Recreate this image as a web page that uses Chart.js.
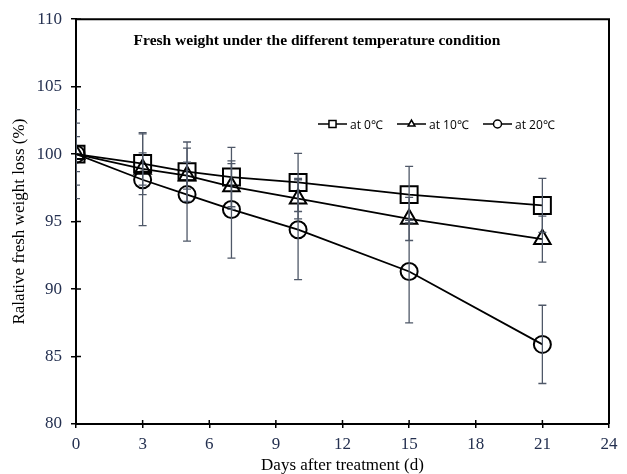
<!DOCTYPE html>
<html>
<head>
<meta charset="utf-8">
<script src="https://cdn.jsdelivr.net/npm/chart.js@4"></script>
<style>
  html, body { margin: 0; padding: 0; background: #fff; }
  #wrap { width: 627px; height: 474px; }
</style>
</head>
<body>
<div id="wrap"><canvas id="myChart" width="627" height="474"></canvas></div>
<script>
const days = [0, 3, 5, 7, 10, 15, 21];
const at0 = [100, 99.3, 98.7, 98.3, 97.9, 97.0, 96.2];
const at0Err = [2.3, 2.3, 2.2, 2.2, 2.15, 2.1, 2.0];
const at10 = [100, 98.9, 98.4, 97.6, 96.7, 95.2, 93.7];
const at10Err = [1.3, 1.2, 1.0, 1.7, 1.5, 1.6, 1.7];
const at20 = [100, 98.1, 97.0, 95.9, 94.4, 91.3, 85.9];
const at20Err = [3.3, 3.4, 3.45, 3.6, 3.7, 3.8, 2.9];
const seriesNames = ['at 0℃', 'at 10℃', 'at 20℃'];
const chartTitle = 'Fresh weight under the different temperature condition';

const tickColor = '#243050';
const errColor = '#4f5868';

function pts(vals) {
  return days.map((d, i) => ({ x: d, y: vals[i] }));
}

// error bars, clipped to the plot area like the original
const errorBars = {
  id: 'errorBars',
  afterDatasetsDraw(chart) {
    const ctx = chart.ctx;
    const area = chart.chartArea;
    const y = chart.scales.y;
    ctx.save();
    ctx.beginPath();
    ctx.rect(area.left, area.top, area.right - area.left, area.bottom - area.top);
    ctx.clip();
    ctx.strokeStyle = errColor;
    ctx.lineWidth = 1.3;
    chart.data.datasets.forEach((ds, di) => {
      const meta = chart.getDatasetMeta(di);
      ds.errors.forEach((e, i) => {
        const px = meta.data[i].x;
        const top = y.getPixelForValue(ds.data[i].y + e);
        const bot = y.getPixelForValue(ds.data[i].y - e);
        ctx.beginPath();
        ctx.moveTo(px, top); ctx.lineTo(px, bot);
        ctx.moveTo(px - 4, top); ctx.lineTo(px + 4, top);
        ctx.moveTo(px - 4, bot); ctx.lineTo(px + 4, bot);
        ctx.stroke();
      });
    });
    ctx.restore();
  }
};

// box, inner tick marks, title and legend inside the plot
const extras = {
  id: 'extras',
  afterDraw(chart) {
    const ctx = chart.ctx;
    const a = chart.chartArea;
    const xs = chart.scales.x, ys = chart.scales.y;
    ctx.save();
    ctx.strokeStyle = '#000';
    ctx.lineWidth = 2;
    ctx.beginPath();
    ctx.moveTo(a.left, a.top); ctx.lineTo(a.right, a.top); ctx.lineTo(a.right, a.bottom);
    ctx.stroke();

    ctx.lineWidth = 1.5;
    ctx.beginPath();
    xs.ticks.forEach(t => {
      const px = xs.getPixelForValue(t.value);
      ctx.moveTo(px, a.bottom); ctx.lineTo(px, a.bottom - 4);
    });
    ys.ticks.forEach(t => {
      const py = ys.getPixelForValue(t.value);
      ctx.moveTo(a.left, py); ctx.lineTo(a.left + 5, py);
    });
    ctx.stroke();

    ctx.fillStyle = '#000';
    ctx.font = 'bold 15.5px "Liberation Serif", "Times New Roman", serif';
    ctx.textAlign = 'center';
    ctx.textBaseline = 'middle';
    ctx.fillText(chartTitle, 317, 41);

    // legend
    const lx = [318, 397, 483];
    const ly = 124;
    ctx.font = '12px "Open Sans", "Liberation Sans", sans-serif';
    ctx.textAlign = 'left';
    chart.data.datasets.forEach((ds, i) => {
      const x0 = lx[i];
      ctx.strokeStyle = '#000';
      ctx.lineWidth = 1.5;
      ctx.beginPath();
      ctx.moveTo(x0, ly); ctx.lineTo(x0 + 29, ly);
      ctx.stroke();
      ctx.fillStyle = '#fff';
      ctx.strokeStyle = '#000';
      Chart.helpers.drawPoint(ctx, {
        pointStyle: ds.pointStyle, rotation: 0, borderWidth: 1.5,
        radius: ds.pointStyle === 'rect' ? 5 : 4
      }, x0 + 14.5, ly);
      ctx.fillStyle = '#000';
      ctx.fillText(ds.label, x0 + 32, ly + 2);
    });
    ctx.restore();
  }
};

function makeSet(label, vals, errs, style, r) {
  return {
    label: label,
    data: pts(vals),
    errors: errs,
    borderColor: '#000',
    borderWidth: 1.8,
    pointStyle: style,
    pointRadius: r,
    pointHoverRadius: r,
    pointBorderWidth: 2,
    pointBorderColor: '#000',
    pointBackgroundColor: 'rgba(255,255,255,0)',
    fill: false,
    tension: 0,
  };
}

const ctx = document.getElementById('myChart').getContext('2d');
const myChart = new Chart(ctx, {
  type: 'line',
  data: {
    datasets: [
      makeSet(seriesNames[0], at0, at0Err, 'rect', 12),
      makeSet(seriesNames[1], at10, at10Err, 'triangle', 9.5),
      makeSet(seriesNames[2], at20, at20Err, 'circle', 8.5),
    ],
  },
  options: {
    responsive: false,
    animation: false,
    layout: { padding: { top: 19, right: 18, left: 0, bottom: 0 } },
    plugins: {
      legend: { display: false },
      tooltip: { enabled: false },
    },
    scales: {
      x: {
        type: 'linear',
        min: 0,
        max: 24,
        afterFit: s => { s.height = 50; },
        ticks: {
          stepSize: 3,
          color: tickColor,
          padding: 6,
          font: { family: '"Liberation Serif", serif', size: 17 },
        },
        grid: { drawOnChartArea: false, tickLength: 4, color: '#000', lineWidth: 1.5 },
        border: { color: '#000', width: 2 },
        title: {
          display: true,
          text: 'Days after treatment (d)',
          color: '#000',
          padding: { top: -6, bottom: 0 },
          font: { family: '"Liberation Serif", serif', size: 17, lineHeight: 1 },
        },
      },
      y: {
        min: 80,
        max: 110,
        afterFit: s => { s.width = 76; },
        ticks: {
          stepSize: 5,
          color: tickColor,
          padding: 9,
          font: { family: '"Liberation Serif", serif', size: 17 },
        },
        grid: { drawOnChartArea: false, tickLength: 5, color: '#000', lineWidth: 1.5 },
        border: { color: '#000', width: 2 },
        title: {
          display: true,
          text: 'Ralative fresh weight loss (%)',
          color: '#000',
          padding: { top: 11, bottom: 0 },
          font: { family: '"Liberation Serif", serif', size: 17, lineHeight: 1 },
        },
      },
    },
  },
  plugins: [errorBars, extras],
});
</script>
</body>
</html>
